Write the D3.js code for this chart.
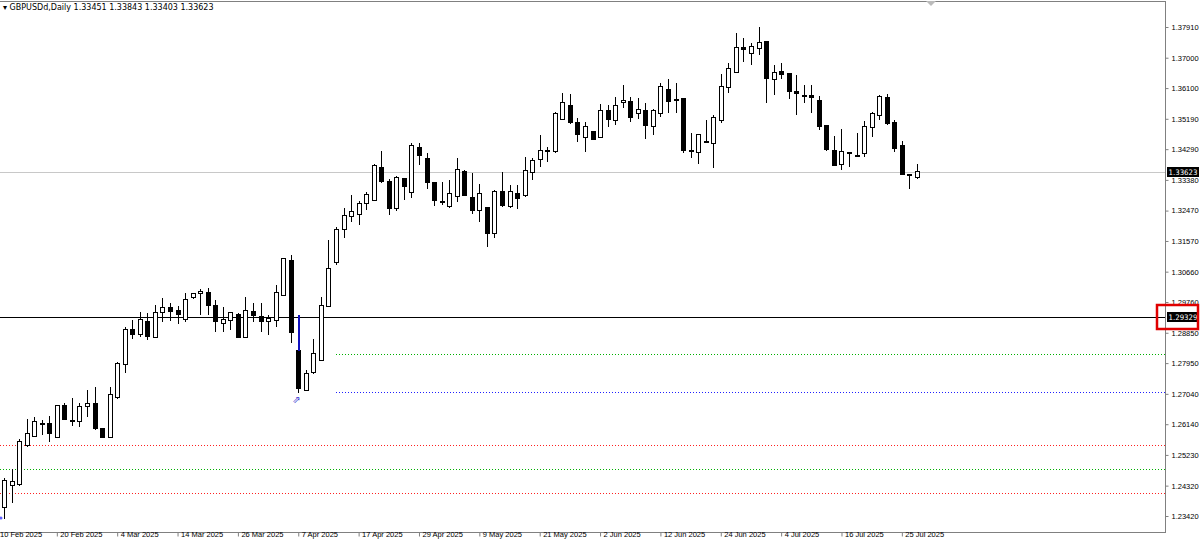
<!DOCTYPE html>
<html>
<head>
<meta charset="utf-8">
<script src="https://cdn.jsdelivr.net/npm/d3@7"></script>
<style>
  body { margin: 0; background: #fff; }
  svg { display: block; font-family: "DejaVu Sans", Tahoma, sans-serif; }
  .axis text { font-size: 7.5px; fill: #000; }
  .axis path, .axis line { stroke: #808080; }
</style>
</head>
<body>
<svg id="chart" width="1200" height="539"></svg>
<script>
// OHLC per daily bar, starting 11 Feb 2025
const opens = [1.2366,1.2431,1.2434,1.2552,1.2579,1.2615,1.2615,1.2576,1.2668,1.2626,1.2623,1.2665,1.2674,1.2600,1.2576,1.2692,1.2792,1.2896,1.2881,1.2917,
  1.2872,1.2944,1.2961,1.2950,1.2923,1.2988,1.3000,1.3003,1.2967,1.2911,1.2920,1.2938,1.2872,1.2947,1.2932,1.2917,1.2920,1.2994,1.3098,1.2831,
  1.2715,1.2766,1.2804,1.2964,1.3092,1.3190,1.3228,1.3234,1.3267,1.3278,1.3376,1.3332,1.3252,1.3341,1.3302,1.3435,1.3400,1.3329,1.3273,1.3258,
  1.3290,1.3364,1.3287,1.3246,1.3255,1.3178,1.3305,1.3258,1.3299,1.3293,1.3361,1.3397,1.3423,1.3421,1.3518,1.3557,1.3507,1.3465,1.3480,1.3465,
  1.3545,1.3515,1.3566,1.3569,1.3536,1.3545,1.3495,1.3536,1.3607,1.3575,1.3578,1.3425,1.3418,1.3450,1.3447,1.3515,1.3613,1.3655,1.3729,1.3711,
  1.3726,1.3747,1.3634,1.3658,1.3652,1.3601,1.3587,1.3587,1.3572,1.3498,1.3424,1.3385,1.3418,1.3409,1.3415,1.3492,1.3530,1.3581,1.3507,1.3441,
  1.3355,1.33451];
const highs = [1.2455,1.2481,1.2570,1.2629,1.2635,1.2626,1.2638,1.2671,1.2677,1.2692,1.2677,1.2715,1.2724,1.2601,1.2724,1.2798,1.2902,1.2923,1.2947,1.2944,
  1.2967,1.2988,1.2973,1.2964,1.3003,1.3003,1.3015,1.3018,1.2982,1.2961,1.2947,1.2944,1.2991,1.2973,1.2973,1.2938,1.3027,1.3107,1.3115,1.2938,
  1.2775,1.2867,1.2991,1.3160,1.3198,1.3255,1.3293,1.3276,1.3302,1.3385,1.3424,1.3341,1.3350,1.3343,1.3447,1.3447,1.3418,1.3332,1.3332,1.3338,
  1.3403,1.3367,1.3358,1.3326,1.3256,1.3307,1.3361,1.3323,1.3323,1.3406,1.3403,1.3471,1.3435,1.3539,1.3595,1.3592,1.3521,1.3510,1.3483,1.3563,
  1.3560,1.3584,1.3619,1.3584,1.3581,1.3566,1.3547,1.3625,1.3637,1.3625,1.3581,1.3477,1.3473,1.3515,1.3530,1.3652,1.3684,1.3773,1.3758,1.3744,
  1.3791,1.3749,1.3678,1.3684,1.3654,1.3649,1.3619,1.3619,1.3587,1.3500,1.3468,1.3489,1.3421,1.3477,1.3512,1.3539,1.3590,1.3592,1.3515,1.3453,
  1.3356,1.33843];
const lows = [1.2333,1.2380,1.2431,1.2546,1.2576,1.2582,1.2561,1.2574,1.2626,1.2609,1.2606,1.2635,1.2597,1.2575,1.2575,1.2690,1.2766,1.2867,1.2872,1.2864,
  1.2871,1.2917,1.2920,1.2911,1.2917,1.2985,1.2938,1.2938,1.2887,1.2887,1.2893,1.2870,1.2870,1.2917,1.2887,1.2878,1.2902,1.2993,1.2855,1.2707,
  1.2713,1.2764,1.2802,1.2962,1.3086,1.3166,1.3213,1.3204,1.3249,1.3276,1.3330,1.3234,1.3246,1.3278,1.3284,1.3382,1.3311,1.3261,1.3264,1.3256,
  1.3273,1.3290,1.3237,1.3213,1.3139,1.3166,1.3258,1.3256,1.3252,1.3287,1.3338,1.3376,1.3391,1.3418,1.3516,1.3504,1.3450,1.3421,1.3456,1.3463,
  1.3495,1.3501,1.3551,1.3510,1.3518,1.3459,1.3471,1.3524,1.3536,1.3536,1.3418,1.3403,1.3385,1.3447,1.3373,1.3507,1.3595,1.3655,1.3687,1.3678,
  1.3708,1.3566,1.3590,1.3637,1.3578,1.3530,1.3566,1.3536,1.3486,1.3425,1.3380,1.3367,1.3376,1.3406,1.3406,1.3465,1.3515,1.3502,1.3421,1.3353,
  1.3311,1.33403];
const closes = [1.2446,1.2443,1.2564,1.2585,1.2623,1.2617,1.2585,1.2668,1.2629,1.2621,1.2665,1.2674,1.2600,1.2576,1.2701,1.2795,1.2896,1.2881,1.2923,1.2875,
  1.2944,1.2961,1.2947,1.2938,1.2985,1.3000,1.3006,1.2967,1.2917,1.2923,1.2944,1.2872,1.2950,1.2935,1.2917,1.2926,1.3003,1.3104,1.2887,1.2721,
  1.2763,1.2825,1.2967,1.3074,1.3192,1.3231,1.3243,1.3267,1.3296,1.3382,1.3332,1.3252,1.3344,1.3317,1.3441,1.3409,1.3329,1.3278,1.3270,1.3299,
  1.3370,1.3293,1.3246,1.3299,1.3178,1.3305,1.3261,1.3305,1.3284,1.3367,1.3394,1.3424,1.3425,1.3536,1.3566,1.3507,1.3471,1.3495,1.3459,1.3545,
  1.3518,1.3557,1.3572,1.3524,1.3548,1.3498,1.3545,1.3616,1.3569,1.3572,1.3424,1.3423,1.3471,1.3452,1.3524,1.3616,1.3667,1.3729,1.3723,1.3732,
  1.3744,1.3637,1.3655,1.3649,1.3601,1.3595,1.3586,1.3581,1.3495,1.3427,1.3382,1.3421,1.3419,1.3410,1.3495,1.3536,1.3584,1.3504,1.3432,1.3355,
  1.3350,1.33623];

const priceTicks = [1.37910,1.37000,1.36100,1.35190,1.34290,1.33380,1.32470,1.31570,1.30660,1.29760,1.28850,1.27950,1.27040,1.26140,1.25230,1.24320,1.23420];
const dateTickIdx = [-1,7,15,23,31,39,47,55,63,71,79,87,95,103,111,119];
const dateTickLabels = ["10 Feb 2025","20 Feb 2025","4 Mar 2025","14 Mar 2025","26 Mar 2025","7 Apr 2025","17 Apr 2025","29 Apr 2025",
  "9 May 2025","21 May 2025","2 Jun 2025","12 Jun 2025","24 Jun 2025","4 Jul 2025","16 Jul 2025","25 Jul 2025"];

const levels = [
  { price: 1.29329, color: "#000", dash: null, from: null },
  { price: 1.33623, color: "#c8c8c8", dash: null, from: null },
  { price: 1.28221, color: "#00b000", dash: "1,2", from: 44 },
  { price: 1.27095, color: "#2020ff", dash: "1,2", from: 44 },
  { price: 1.25525, color: "#ff2020", dash: "1,2", from: null },
  { price: 1.24813, color: "#00b000", dash: "1,2", from: null },
  { price: 1.24102, color: "#ff2020", dash: "1,2", from: null },
];

const svg = d3.select("#chart");
const plotRight = 1165, plotBottom = 532;
const x = d3.scaleLinear([0, 1], [4, 11.545]);
const y = d3.scaleLinear([1.3791, 1.2342], [27, 516]);
const bars = opens.map((o, i) => ({ i, o, h: highs[i], l: lows[i], c: closes[i] }));

svg.append("defs").append("clipPath").attr("id", "clip")
  .append("rect").attr("x", 0).attr("y", 1).attr("width", plotRight).attr("height", plotBottom - 1);
const plot = svg.append("g").attr("clip-path", "url(#clip)").attr("shape-rendering", "crispEdges");

plot.selectAll(".lvl").data(levels).join("line")
  .attr("x1", d => d.from == null ? 0 : x(d.from)).attr("x2", plotRight)
  .attr("y1", d => Math.round(y(d.price)) + 0.5).attr("y2", d => Math.round(y(d.price)) + 0.5)
  .attr("stroke", d => d.color).attr("stroke-dasharray", d => d.dash);

const g = plot.selectAll(".bar").data(bars).join("g");
g.append("line")
  .attr("x1", d => Math.round(x(d.i)) + 0.5).attr("x2", d => Math.round(x(d.i)) + 0.5)
  .attr("y1", d => y(d.h)).attr("y2", d => y(d.l)).attr("stroke", "#000");
g.append("rect")
  .attr("x", d => Math.round(x(d.i)) - 2 + 0.5).attr("width", 4)
  .attr("y", d => y(Math.max(d.o, d.c))).attr("height", d => Math.max(1, Math.abs(y(d.o) - y(d.c))))
  .attr("fill", d => d.c >= d.o ? "#fff" : "#000").attr("stroke", "#000");

// highlighted wick on the 7 Apr bar
const hb = bars[39];
plot.append("line")
  .attr("x1", Math.round(x(hb.i)) + 0.5).attr("x2", Math.round(x(hb.i)) + 0.5)
  .attr("y1", y(hb.h)).attr("y2", y(hb.o)).attr("stroke", "#1010c0").attr("stroke-width", 2);
svg.append("text").attr("x", x(hb.i) - 6).attr("y", y(hb.l) + 10)
  .attr("font-size", 10).attr("fill", "#3030d0").text("⇗");
svg.append("circle").attr("cx", 1).attr("cy", y(lows[0]) - 1).attr("r", 1.5).attr("fill", "#6060ff");

// frame
svg.append("path").attr("d", `M0,1.5H${plotRight + 0.5}V${plotBottom + 0.5}H0`)
  .attr("fill", "none").attr("stroke", "#808080").attr("shape-rendering", "crispEdges");
svg.append("path").attr("d", "M926,1 L936,1 L931,6 Z").attr("fill", "#bbb");

const yAxis = d3.axisRight(y).tickValues(priceTicks).tickSize(3).tickFormat(d3.format(".5f"));
svg.append("g").attr("class", "axis").attr("transform", `translate(${plotRight + 0.5},0)`)
  .call(yAxis).call(a => a.select(".domain").remove())
  .call(a => a.selectAll("text").attr("x", 6));

const xAxis = d3.axisBottom(x).tickValues(dateTickIdx).tickSize(4)
  .tickFormat((d, k) => dateTickLabels[k]);
svg.append("g").attr("class", "axis").attr("transform", `translate(0,${plotBottom + 0.5})`)
  .call(xAxis).call(a => a.select(".domain").remove())
  .call(a => a.selectAll("text").attr("text-anchor", "start").attr("x", 3).attr("y", 0).attr("dy", "0.6em"));

// price tags
[1.33623, 1.29329].forEach(p => {
  const yy = Math.round(y(p));
  svg.append("rect").attr("x", plotRight + 2).attr("y", yy - 5).attr("width", 32).attr("height", 10).attr("fill", "#000");
  svg.append("text").attr("x", plotRight + 3.5).attr("y", yy + 3).attr("font-size", 7.5)
    .attr("textLength", 29).attr("lengthAdjust", "spacingAndGlyphs").attr("fill", "#fff").text(p.toFixed(5));
});
svg.append("rect").attr("x", 1157).attr("y", Math.round(y(1.29329)) - 12).attr("width", 41).attr("height", 24)
  .attr("fill", "none").attr("stroke", "#e00000").attr("stroke-width", 2.5);

svg.append("text").attr("x", 3).attr("y", 10).attr("font-size", 8)
  .text("▾ GBPUSDd,Daily  1.33451 1.33843 1.33403 1.33623");
</script>
</body>
</html>
